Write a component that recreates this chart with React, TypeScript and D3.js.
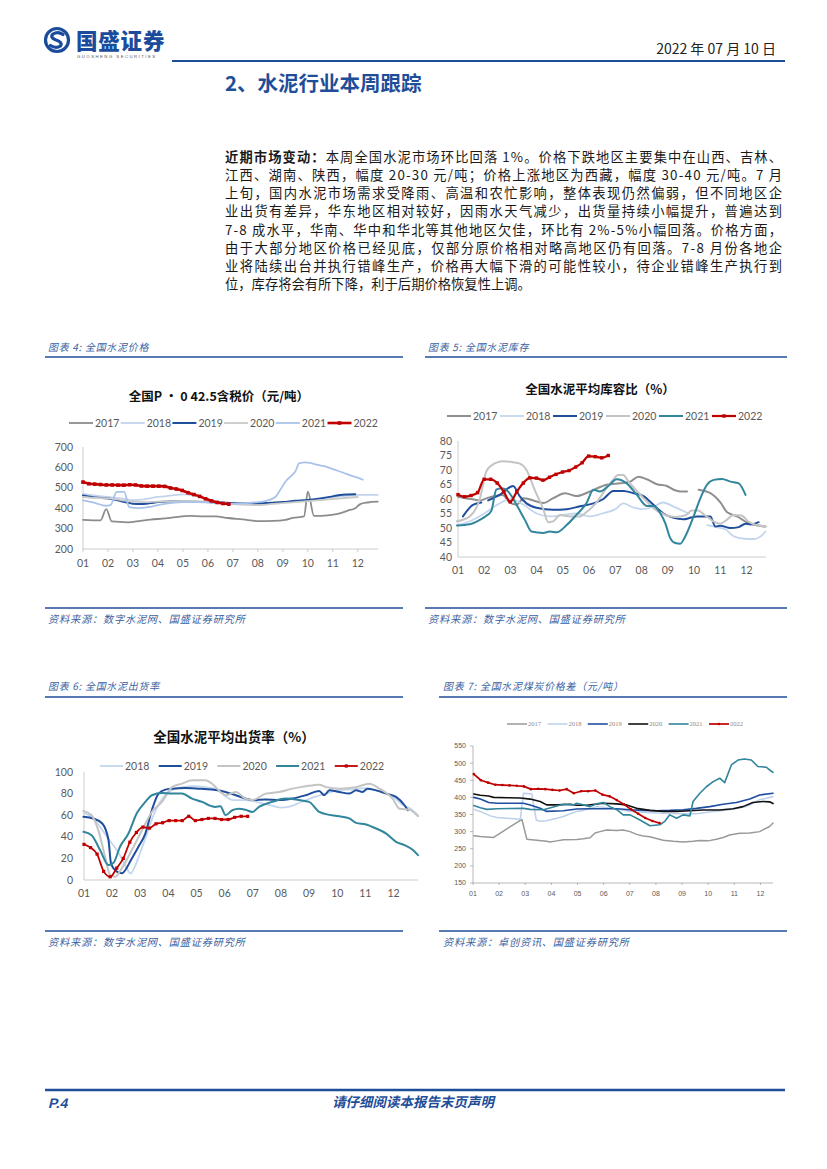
import React from 'react';
import * as d3 from 'd3';

type Pt = [number, number | null];

const MONTHS = ['01', '02', '03', '04', '05', '06', '07', '08', '09', '10', '11', '12'];
const YEARS = ['2017', '2018', '2019', '2020', '2021', '2022'];

// ---------- 图表4 全国水泥价格 ----------
const PRICE_TICKS = [200, 300, 400, 500, 600, 700];
const price2017: Pt[] = [[1, 343], [1.7, 340], [1.93, 395], [2.15, 335], [2.8, 331], [3.3, 338], [3.7, 344], [4.3, 350], [4.7, 356], [5.3, 362], [5.8, 360], [6.3, 360], [6.8, 352], [7.4, 345], [8, 337], [8.6, 338], [9.1, 343], [9.4, 352], [9.85, 360], [10.0, 481], [10.25, 362], [10.8, 365], [11.2, 372], [11.6, 388], [11.9, 400], [12.1, 420], [12.4, 428], [12.8, 432]];
const price2018: Pt[] = [[1, 470], [1.5, 462], [2, 455], [2.5, 448], [3, 440], [3.5, 445], [4, 455], [4.5, 462], [5, 468], [5.5, 460], [6, 445], [6.5, 430], [7, 420], [7.5, 418], [8, 420], [8.5, 425], [9, 430], [9.5, 435], [10, 440], [10.5, 445], [11, 455], [11.5, 460], [12, 465], [12.8, 465]];
const price2019: Pt[] = [[1, 462], [1.5, 452], [2, 448], [2.5, 435], [3, 422], [3.3, 420], [3.7, 425], [4, 430], [4.5, 433], [5, 433], [5.5, 432], [6, 430], [6.5, 428], [7, 425], [7.5, 424], [8, 423], [8.5, 427], [9, 430], [9.5, 436], [10, 440], [10.5, 448], [11, 458], [11.3, 465], [11.6, 467], [11.9, 468]];
const price2020: Pt[] = [[1, 455], [1.5, 450], [2, 448], [2.5, 440], [3, 432], [3.5, 430], [4, 432], [4.5, 432], [5, 435], [5.5, 435], [6, 430], [6.5, 425], [7, 420], [7.5, 418], [8, 415], [8.5, 420], [9, 425], [9.5, 430], [10, 435], [10.5, 440], [11, 445], [11.5, 450], [12, 455]];
const price2021: Pt[] = [[1, 438], [1.5, 425], [1.9, 412], [2.1, 415], [2.35, 480], [2.65, 480], [2.85, 405], [3.2, 400], [3.6, 405], [4, 415], [4.5, 425], [5, 430], [5.5, 430], [6, 428], [6.5, 425], [7, 422], [7.5, 425], [8, 430], [8.3, 435], [8.7, 455], [8.9, 490], [9.1, 530], [9.35, 560], [9.5, 580], [9.65, 620], [9.9, 625], [10.1, 622], [10.4, 612], [10.7, 605], [11, 592], [11.4, 575], [11.8, 557], [12.1, 545], [12.2, 540]];
const price2022: number[] = [528, 520, 518, 516, 514, 514, 513, 513, 515, 514, 509, 508, 508, 508, 507, 499, 494, 487, 476, 467, 458, 446, 436, 428, 423, 420];

// ---------- 图表5 全国水泥库存 ----------
const STOCK_TICKS = [40, 45, 50, 55, 60, 65, 70, 75, 80];
const stock2017: Pt[] = [[1, 60.8], [1.5, 60], [1.85, 59.5], [2.1, 60.3], [2.7, 61.4], [2.95, 59], [3.23, 58], [3.5, 60.3], [3.87, 59.5], [4.25, 58.6], [4.63, 60.3], [5.08, 62], [5.52, 61], [6.03, 62.6], [6.67, 64.9], [7.18, 65.4], [7.56, 66], [7.88, 67.7], [8.2, 66.8], [8.58, 65.1], [8.96, 64.5], [9.22, 63.2], [9.47, 62.6], [9.73, 62.6], [9.95, null], [10.17, 63.2], [10.62, 62], [11, 58.8], [11.26, 55.4], [11.64, 54], [12.02, 51.9], [12.72, 50.5]];
const stock2018: Pt[] = [[1, 51], [1.5, 52.5], [2, 55], [2.5, 58], [3, 60], [3.5, 58], [4, 55], [4.5, 54], [5, 54.5], [5.5, 55], [6, 54], [6.5, 55], [7, 56.5], [7.3, 58.5], [7.7, 57], [8, 56.5], [8.5, 57.5], [8.8, 58.8], [9.3, 57], [9.8, 55], [10.2, null], [10.5, 51], [10.9, 50.2], [11.2, 49.5], [11.5, 47.2], [11.9, 46.3], [12.3, 46.2], [12.55, 47.2], [12.72, 48.8]];
const stock2019: Pt[] = [[1.19, 54], [1.57, 58], [1.89, 58.8], [2.0, null], [2.15, 59.5], [2.6, 61.5], [3.1, 64.5], [3.35, 61], [3.61, 58.5], [3.99, 57], [4.63, 56.3], [5.14, 56.5], [5.65, 57.5], [6.16, 58.5], [6.54, 60], [6.92, 62.8], [7.31, 62.8], [7.69, 62], [8.07, 61], [8.45, 58], [8.83, 55], [9.22, 53.5], [9.6, 53], [9.85, 53.5], [10.1, 54], [10.62, 54], [10.81, 50.5], [11, 50.8], [11.38, 50], [11.7, 50.3], [11.96, 51.5], [12.15, 51.2], [12.46, 52]];
const stock2020: Pt[] = [[0.96, 52.3], [1.45, 54], [1.83, 60], [2.08, 69.5], [2.27, 71.5], [2.72, 73], [3.1, 72.7], [3.36, 72.2], [3.61, 70], [3.93, 63], [4.25, 56.5], [4.44, 52], [4.63, 52.3], [4.89, 54.5], [5.27, 54], [5.65, 54], [5.9, 55.5], [6.3, 59], [6.6, 63], [6.9, 66.5], [7.1, 68.3], [7.3, 68.3], [7.5, 66], [7.8, 63], [8.1, 60], [8.5, 56.5], [8.9, 54.5], [9.3, 53.8], [9.7, 54.5], [9.9, 56], [10.15, 56], [10.4, 54.5], [10.7, 52.5], [11, 51.5], [11.2, 52.5], [11.5, 54.5], [11.8, 54.3], [12.1, 52], [12.4, 51], [12.72, 50.5]];
const stock2021: Pt[] = [[0.96, 50.9], [1.45, 51.3], [1.83, 52.8], [2.08, 54.2], [2.27, 55.9], [2.46, 63.2], [2.66, 63.7], [2.91, 62.6], [3.23, 58], [3.55, 52.8], [3.8, 48.8], [4.25, 48.3], [4.5, 48.8], [4.76, 48.5], [5.14, 51], [5.52, 54.6], [5.9, 58.6], [6.16, 63.2], [6.41, 62.6], [6.73, 64.5], [7.05, 66.8], [7.43, 65.4], [7.82, 61.4], [8.2, 57.6], [8.45, 57.6], [8.71, 55.1], [8.9, 51.7], [9.09, 46.5], [9.28, 44.8], [9.47, 44.6], [9.66, 47.1], [9.98, 54], [10.24, 60.3], [10.49, 64.9], [10.75, 66.6], [11.06, 66.9], [11.38, 66], [11.7, 65.4], [11.96, 61.4]];
const stock2022: number[] = [61.5, 60.8, 61.2, 62.2, 66.8, 66.8, 65.5, 62.5, 59.0, 62.5, 65.5, 67.3, 67.2, 66.5, 67.5, 68.5, 69.3, 69.8, 71.0, 72.5, 74.8, 74.6, 74.2, 75.0];

// ---------- 图表6 全国水泥出货率 ----------
const SHIP_TICKS = [0, 20, 40, 60, 80, 100];
const SHIP_YEARS = ['2018', '2019', '2020', '2021', '2022'];
const ship2018: Pt[] = [[1, 62], [1.3, 58], [1.6, 48], [1.9, 37], [2.1, 30], [2.3, 22], [2.5, 12], [2.65, 6], [2.8, 12], [2.95, 22], [3.2, 40], [3.5, 62], [3.8, 76], [4.1, 83], [4.5, 86], [4.9, 87], [5.3, 86], [5.7, 84], [6.0, 78], [6.3, 74], [6.7, 74], [7, 73], [7.5, 70], [8, 67], [8.3, 68], [8.7, 72], [9.2, 77], [9.6, 80], [10, 83], [10.5, 84], [11, 85], [11.5, 82], [12, 77], [12.3, 70], [12.6, 66], [12.87, 60]];
const ship2019: Pt[] = [[0.98, 58.5], [1.33, 57], [1.65, 52.3], [1.87, 37], [1.96, 15.4], [2.17, 7.7], [2.34, 6.2], [2.7, 20], [2.94, 31], [3.18, 43], [3.41, 64.6], [3.65, 80], [3.89, 83.7], [4.13, 84.6], [4.6, 85.2], [5.08, 84.6], [5.55, 83.7], [6.03, 81.5], [6.39, 78.5], [6.74, 75.4], [6.98, 74], [7.46, 74.5], [7.93, 74], [8.41, 75.4], [8.88, 78.5], [9.36, 82.5], [9.54, 78.5], [9.72, 83], [10.07, 81.5], [10.43, 80], [10.67, 83], [10.9, 81.5], [11.08, 84.6], [11.38, 83], [11.74, 80], [12.09, 77], [12.39, 69.2], [12.51, 64.6]];
const ship2020: Pt[] = [[0.98, 64], [1.27, 60], [1.51, 46], [1.75, 21.5], [1.93, 4.6], [2.11, 3], [2.34, 10.8], [2.7, 27.7], [3.06, 46], [3.41, 63], [3.77, 72.3], [4.13, 86], [4.48, 89.2], [4.84, 92.3], [5.32, 92.3], [5.55, 89.2], [5.85, 81.5], [6.03, 78.5], [6.39, 81.5], [6.74, 75.4], [6.98, 74], [7.46, 80], [7.93, 81.5], [8.41, 84.6], [8.88, 86.8], [9.36, 88.3], [9.6, 86], [10.07, 84.6], [10.67, 86], [11.14, 89.2], [11.5, 84.6], [11.97, 75.4], [12.21, 66], [12.57, 65], [12.87, 59]];
const ship2021: Pt[] = [[0.98, 44.6], [1.27, 41.5], [1.57, 27.7], [1.87, 13.8], [2.05, 16], [2.28, 30.8], [2.58, 43], [2.88, 62], [3.18, 72.3], [3.41, 78.5], [3.77, 80.6], [4.13, 80], [4.48, 80], [4.84, 75.4], [5.2, 72.3], [5.44, 69.2], [5.67, 67.7], [5.85, 68.3], [6.03, 60], [6.27, 64.6], [6.51, 66], [6.74, 65], [6.98, 63], [7.22, 67.7], [7.69, 72.3], [8.17, 75.4], [8.65, 74], [9.0, 72.3], [9.36, 63], [9.6, 61], [10.07, 59.1], [10.43, 57], [10.67, 52.9], [11.02, 51.4], [11.38, 47.7], [11.74, 43], [12.09, 35.4], [12.39, 32.3], [12.69, 27.7], [12.87, 23]];
const ship2022: number[] = [33, 30, 24, 8, 3, 11, 20, 35, 44, 49, 48, 52, 53, 55, 55, 55, 59, 55, 56, 57, 57, 56, 56, 58, 59, 59];

// ---------- 图表7 全国水泥煤炭价格差 ----------
const SPREAD_TICKS = [150, 200, 250, 300, 350, 400, 450, 500, 550];
const spread2017: Pt[] = [[1.03, 288], [1.28, 286], [1.79, 283], [2.87, 336], [3.06, 278], [3.44, 275], [3.82, 272], [3.95, 270], [4.21, 273], [4.46, 276], [4.97, 277], [5.22, 279], [5.48, 282], [5.67, 296], [5.86, 300], [6.11, 305], [6.5, 303], [6.75, 305], [7.01, 300], [7.26, 292], [7.51, 287], [7.77, 285], [8.02, 280], [8.28, 275], [8.66, 272], [9.04, 270], [9.42, 272], [9.68, 274], [10.0, 273], [10.31, 278], [10.57, 283], [10.82, 290], [11.2, 295], [11.59, 296], [11.97, 300], [12.09, 305], [12.35, 315], [12.48, 325]];
const spread2018: Pt[] = [[1.03, 365], [1.28, 359], [1.66, 346], [1.92, 341], [2.3, 339], [2.81, 336], [2.93, 412], [3.25, 410], [3.42, 334], [3.57, 330], [3.82, 332], [4.21, 339], [4.46, 344], [4.72, 352], [4.97, 359], [5.22, 362], [5.73, 373], [6.37, 368], [7.01, 359], [7.64, 356], [8.28, 354], [8.91, 352], [9.55, 352], [10.19, 359], [10.82, 364], [11.46, 373], [11.97, 393], [12.48, 402]];
const spread2019: Pt[] = [[1.03, 400], [1.28, 395], [1.6, 385], [1.92, 383], [2.93, 383], [3.19, 378], [3.57, 368], [3.82, 359], [4.46, 361], [4.97, 366], [5.48, 367], [6.5, 367], [7.01, 364], [7.51, 362], [8.02, 361], [8.53, 362], [9.04, 364], [9.55, 368], [10.06, 373], [10.57, 380], [11.08, 385], [11.59, 395], [11.97, 407], [12.48, 412]];
const spread2020: Pt[] = [[1.03, 410], [1.28, 406], [1.6, 404], [1.79, 400], [2.3, 399], [2.81, 398], [3.19, 395], [3.57, 388], [3.82, 378], [4.21, 378], [4.72, 380], [4.97, 377], [5.35, 377], [5.99, 383], [6.5, 381], [6.88, 378], [7.26, 368], [7.77, 362], [8.28, 359], [8.79, 359], [9.3, 361], [9.8, 363], [10.44, 363], [10.95, 367], [11.33, 373], [11.71, 385], [12.09, 388], [12.35, 387], [12.48, 382]];
const spread2021: Pt[] = [[1.03, 376], [1.28, 370], [1.53, 365], [1.92, 367], [2.93, 368], [3.19, 365], [3.7, 364], [4.21, 375], [4.46, 380], [4.84, 378], [4.97, 383], [5.48, 373], [5.73, 381], [5.99, 385], [6.24, 373], [6.5, 364], [6.75, 349], [7.01, 349], [7.39, 334], [7.77, 317], [8.15, 320], [8.34, 330], [8.53, 349], [8.79, 339], [9.04, 349], [9.3, 346], [9.42, 388], [9.68, 412], [9.93, 431], [10.19, 446], [10.44, 456], [10.63, 443], [10.89, 495], [11.14, 509], [11.39, 512], [11.65, 509], [11.9, 490], [12.22, 488], [12.35, 480], [12.48, 473]];
const spread2022: number[] = [468, 450, 443, 437, 436, 435, 434, 432, 424, 425, 424, 422, 420, 424, 412, 418, 418, 420, 408, 403, 392, 380, 365, 352, 340, 331, 325];

// ---------- 正文 ----------
const PARA_LINES = [
  '本周全国水泥市场环比回落 1%。价格下跌地区主要集中在山西、吉林、',
  '江西、湖南、陕西，幅度 20-30 元/吨；价格上涨地区为西藏，幅度 30-40 元/吨。7 月',
  '上旬，国内水泥市场需求受降雨、高温和农忙影响，整体表现仍然偏弱，但不同地区企',
  '业出货有差异，华东地区相对较好，因雨水天气减少，出货量持续小幅提升，普遍达到',
  '7-8 成水平，华南、华中和华北等其他地区欠佳，环比有 2%-5%小幅回落。价格方面，',
  '由于大部分地区价格已经见底，仅部分原价格相对略高地区仍有回落。7-8 月份各地企',
  '业将陆续出台并执行错峰生产，价格再大幅下滑的可能性较小，待企业错峰生产执行到',
  '位，库存将会有所下降，利于后期价格恢复性上调。',
];

const CJK = '"Noto Sans CJK SC", "Noto Sans", sans-serif';
const NUM = 'Lato, "Liberation Sans", sans-serif';
const BLUE = '#1f4e99';
const CAP = '#3b5f9f';

const weekly = (vals: number[], start: number, step: number): Pt[] => vals.map((v, i) => [start + i * step, v]);

interface SeriesDef {
  name: string;
  data: Pt[];
  color: string;
  width: number;
  marker?: 'square' | 'circle';
  msize?: number;
}

interface ChartProps {
  left: number; right: number; top: number; bottom: number;
  xMax: number; yTicks: number[];
  series: SeriesDef[];
  curve?: d3.CurveFactory;
  labelSize: number; labelFont: string; labelColor: string;
  yLabelGap: number; xLabelDy: number; axisColor: string;
  xTickLen: number; yTickLen: number;
}

function LineChart(p: ChartProps) {
  const x = d3.scaleLinear().domain([1, p.xMax]).range([p.left, p.right]);
  const y = d3.scaleLinear().domain([p.yTicks[0], p.yTicks[p.yTicks.length - 1]]).range([p.bottom, p.top]);
  const line = d3.line<Pt>()
    .defined(d => d[1] !== null)
    .x(d => x(d[0]))
    .y(d => y(d[1] as number))
    .curve(p.curve ?? d3.curveMonotoneX);
  return (
    <g>
      <line x1={x(1)} x2={x(1)} y1={y.range()[1]} y2={y.range()[0]} stroke={p.axisColor} strokeWidth={0.8} />
      <line x1={x(1)} x2={p.right} y1={p.bottom} y2={p.bottom} stroke={p.axisColor} strokeWidth={0.8} />
      {p.yTicks.map(t => (
        <g key={'y' + t}>
          {p.yTickLen > 0 && <line x1={x(1) - p.yTickLen} x2={x(1)} y1={y(t)} y2={y(t)} stroke={p.axisColor} strokeWidth={0.8} />}
          <text x={x(1) - p.yLabelGap} y={y(t)} dy="0.35em" textAnchor="end" fontFamily={p.labelFont} fontSize={p.labelSize} fill={p.labelColor}>{t}</text>
        </g>
      ))}
      {MONTHS.map((m, i) => (
        <g key={'x' + m}>
          {p.xTickLen > 0 && <line x1={x(i + 1)} x2={x(i + 1)} y1={p.bottom} y2={p.bottom + p.xTickLen} stroke={p.axisColor} strokeWidth={0.8} />}
          <text x={x(i + 1)} y={p.bottom + p.xLabelDy} textAnchor="middle" fontFamily={p.labelFont} fontSize={p.labelSize} fill={p.labelColor}>{m}</text>
        </g>
      ))}
      {p.series.map(s => (
        <g key={s.name}>
          <path d={line(s.data) || ''} fill="none" stroke={s.color} strokeWidth={s.width} strokeLinejoin="round" strokeLinecap="round" />
          {s.marker === 'square' && s.data.filter(d => d[1] !== null).map((d, i) => (
            <rect key={i} x={x(d[0]) - (s.msize ?? 3) / 2} y={y(d[1] as number) - (s.msize ?? 3) / 2} width={s.msize ?? 3} height={s.msize ?? 3} fill={s.color} />
          ))}
          {s.marker === 'circle' && s.data.filter(d => d[1] !== null).map((d, i) => (
            <circle key={i} cx={x(d[0])} cy={y(d[1] as number)} r={(s.msize ?? 2) / 2} fill={s.color} />
          ))}
        </g>
      ))}
    </g>
  );
}

interface LegendProps {
  items: SeriesDef[]; x0: number; step: number; y: number; lineLen: number; textDx: number;
  fontSize: number; font: string; color: string;
}

function Legend(p: LegendProps) {
  return (
    <g>
      {p.items.map((s, i) => {
        const lx = p.x0 + i * p.step;
        const ms = s.msize ?? 3;
        return (
          <g key={s.name}>
            <line x1={lx} x2={lx + p.lineLen} y1={p.y} y2={p.y} stroke={s.color} strokeWidth={s.width} />
            {s.marker === 'square' && <rect x={lx + p.lineLen / 2 - ms / 2} y={p.y - ms / 2} width={ms} height={ms} fill={s.color} />}
            {s.marker === 'circle' && <circle cx={lx + p.lineLen / 2} cy={p.y} r={ms / 2} fill={s.color} />}
            <text x={lx + p.textDx} y={p.y} dy="0.35em" fontFamily={p.font} fontSize={p.fontSize} fill={p.color}>{s.name}</text>
          </g>
        );
      })}
    </g>
  );
}

function Oblique({ x, y, children, size, color, weight, anchor, spacing, family }: {
  x: number; y: number; children: React.ReactNode; size: number; color: string; weight?: number; anchor?: string; spacing?: number; family?: string;
}) {
  return (
    <g transform={`translate(${x},${y}) skewX(-13)`}>
      <text x={0} y={0} fontFamily={family ?? CJK} fontSize={size} fill={color} fontWeight={weight ?? 400}
        textAnchor={anchor ?? 'start'} letterSpacing={spacing ?? 0}>{children}</text>
    </g>
  );
}

function Caption({ x, y, lineX1, lineX2, lineY, text }: { x: number; y: number; lineX1: number; lineX2: number; lineY: number; text: string }) {
  return (
    <g>
      <Oblique x={x} y={y} size={10} color={CAP} spacing={0.7}>{text}</Oblique>
      <line x1={lineX1} x2={lineX2} y1={lineY} y2={lineY} stroke={BLUE} strokeWidth={1.6} />
    </g>
  );
}

function Source({ x, y, lineX1, lineX2, lineY, text }: { x: number; y: number; lineX1: number; lineX2: number; lineY: number; text: string }) {
  return (
    <g>
      <line x1={lineX1} x2={lineX2} y1={lineY} y2={lineY} stroke={BLUE} strokeWidth={1.6} />
      <Oblique x={x} y={y} size={10.3} color={CAP} spacing={0.7}>{text}</Oblique>
    </g>
  );
}

export default function App() {
  const c4: SeriesDef[] = [
    { name: YEARS[0], data: price2017, color: '#8c8c8c', width: 1.8 },
    { name: YEARS[1], data: price2018, color: '#c3d4ec', width: 1.8 },
    { name: YEARS[2], data: price2019, color: '#1f4e9c', width: 2 },
    { name: YEARS[3], data: price2020, color: '#cacaca', width: 1.8 },
    { name: YEARS[4], data: price2021, color: '#a9c3e8', width: 1.8 },
    { name: YEARS[5], data: weekly(price2022, 1, 0.2336), color: '#c00000', width: 2.6, marker: 'square', msize: 3.6 },
  ];
  const c5: SeriesDef[] = [
    { name: YEARS[0], data: stock2017, color: '#8f8f8f', width: 2 },
    { name: YEARS[1], data: stock2018, color: '#c3d6ee', width: 1.8 },
    { name: YEARS[2], data: stock2019, color: '#1f4e9c', width: 2 },
    { name: YEARS[3], data: stock2020, color: '#c4c4c4', width: 2 },
    { name: YEARS[4], data: stock2021, color: '#31859c', width: 2 },
    { name: YEARS[5], data: weekly(stock2022, 1, 0.249), color: '#c00000', width: 2.2, marker: 'square', msize: 3.4 },
  ];
  const c6: SeriesDef[] = [
    { name: SHIP_YEARS[0], data: ship2018, color: '#c3d6ee', width: 1.8 },
    { name: SHIP_YEARS[1], data: ship2019, color: '#1f4e9c', width: 2 },
    { name: SHIP_YEARS[2], data: ship2020, color: '#c4c4c4', width: 2 },
    { name: SHIP_YEARS[3], data: ship2021, color: '#31859c', width: 2 },
    { name: SHIP_YEARS[4], data: weekly(ship2022, 1, 0.2327), color: '#c00000', width: 1.8, marker: 'square', msize: 3.2 },
  ];
  const c7: SeriesDef[] = [
    { name: YEARS[0], data: spread2017, color: '#999999', width: 1.5 },
    { name: YEARS[1], data: spread2018, color: '#bcd0ea', width: 1.5 },
    { name: YEARS[2], data: spread2019, color: '#1f4ea0', width: 1.6 },
    { name: YEARS[3], data: spread2020, color: '#111111', width: 1.6 },
    { name: YEARS[4], data: spread2021, color: '#31859c', width: 1.6 },
    { name: YEARS[5], data: weekly(spread2022, 1.03, 0.2735), color: '#c00000', width: 1.7, marker: 'circle', msize: 2.6 },
  ];

  return (
    <svg width={827} height={1169} viewBox="0 0 827 1169" style={{ position: 'absolute', left: 0, top: 0, background: '#fff' }}>
      <rect x={0} y={0} width={827} height={1169} fill="#fff" />
      {/* Header */}
      <g>
        <circle cx={57} cy={40} r={11.5} fill="none" stroke="#1b4c9b" strokeWidth={3.2} />
        <path d="M63 34.5 Q58 31 53 34 Q49.5 37.5 56 40 Q63 42.5 60.5 46 Q56 49 50.5 45.5" fill="none" stroke="#1b4c9b" strokeWidth={3.2} strokeLinecap="round" />
        <text x={76} y={48.5} fontFamily={CJK} fontWeight={900} fontSize={21.5} fill="#1b4c9b" letterSpacing={0.8}>国盛证券</text>
        <text x={77} y={57.5} fontFamily="Liberation Sans, sans-serif" fontSize={4.3} fill="#555" letterSpacing={1.45}>GUOSHENG SECURITIES</text>
        <text x={776} y={54} textAnchor="end" fontFamily={CJK} fontSize={14} fill="#222">2022 年 07 月 10 日</text>
        <line x1={172} x2={785} y1={61} y2={61} stroke={BLUE} strokeWidth={2} />
      </g>
      <text x={225} y={91} fontFamily={CJK} fontWeight={700} fontSize={20.5} fill="#1f4e99">2、水泥行业本周跟踪</text>

      {/* Paragraph */}
      {PARA_LINES.map((l, i) => {
        const yy = 162 + i * 18.15;
        const full = i < PARA_LINES.length - 1;
        return (
          <text key={i} x={225} y={yy} fontFamily={CJK} fontSize={13.3} fill="#1a1a1a"
            {...(full ? { textLength: 557, lengthAdjust: 'spacing' } : {})}>
            {i === 0 && <tspan fontWeight={700}>近期市场变动：</tspan>}
            <tspan>{l}</tspan>
          </text>
        );
      })}

      {/* Chart 4 */}
      <Caption x={48} y={351} lineX1={45} lineX2={403} lineY={357} text="图表 4:  全国水泥价格" />
      <text x={219} y={401} textAnchor="middle" fontFamily={CJK} fontWeight={700} fontSize={12.5} fill="#111">全国P · 0 42.5含税价（元/吨）</text>
      <Legend items={c4} x0={69} step={51.7} y={423} lineLen={24} textDx={26} fontSize={10.5} font={NUM} color="#595959" />
      <LineChart left={83} right={378} top={447} bottom={549} xMax={12.81} yTicks={PRICE_TICKS} series={c4}
        labelSize={10.5} labelFont={NUM} labelColor="#595959" yLabelGap={10} xLabelDy={18} axisColor="#bfbfbf" xTickLen={3} yTickLen={0} />
      <Source x={48} y={623} lineX1={45} lineX2={403} lineY={608} text="资料来源：数字水泥网、国盛证券研究所" />

      {/* Chart 5 */}
      <Caption x={428} y={351} lineX1={425} lineX2={787} lineY={357} text="图表 5:  全国水泥库存" />
      <text x={600} y={394} textAnchor="middle" fontFamily={CJK} fontWeight={700} fontSize={12.5} fill="#111">全国水泥平均库容比（%）</text>
      <Legend items={c5} x0={447} step={53} y={416} lineLen={24} textDx={26} fontSize={10.5} font={NUM} color="#595959" />
      <LineChart left={458} right={766} top={441} bottom={557} xMax={12.74} yTicks={STOCK_TICKS} series={c5}
        labelSize={10.5} labelFont={NUM} labelColor="#595959" yLabelGap={6} xLabelDy={17} axisColor="#bfbfbf" xTickLen={0} yTickLen={0} />
      <Source x={428} y={623} lineX1={425} lineX2={787} lineY={608} text="资料来源：数字水泥网、国盛证券研究所" />

      {/* Chart 6 */}
      <Caption x={48} y={690} lineX1={45} lineX2={403} lineY={697} text="图表 6:  全国水泥出货率" />
      <text x={234} y={742} textAnchor="middle" fontFamily={CJK} fontWeight={700} fontSize={13.5} fill="#111">全国水泥平均出货率（%）</text>
      <Legend items={c6} x0={100} step={58.7} y={766} lineLen={23} textDx={25} fontSize={10.5} font={NUM} color="#595959" />
      <LineChart left={84} right={418} top={772} bottom={880} xMax={12.87} yTicks={SHIP_TICKS} series={c6}
        labelSize={10.5} labelFont={NUM} labelColor="#595959" yLabelGap={11} xLabelDy={17} axisColor="#bfbfbf" xTickLen={0} yTickLen={0} />
      <Source x={48} y={946} lineX1={45} lineX2={403} lineY={931} text="资料来源：数字水泥网、国盛证券研究所" />

      {/* Chart 7 */}
      <Caption x={443} y={690} lineX1={439} lineX2={787} lineY={697} text="图表 7:  全国水泥煤炭价格差（元/吨）" />
      <Legend items={c7} x0={507} step={40.4} y={724} lineLen={20} textDx={21} fontSize={6.5} font="Liberation Serif, serif" color="#8a8a8a" />
      <LineChart left={473} right={773} top={746} bottom={883} xMax={12.48} yTicks={SPREAD_TICKS} series={c7} curve={d3.curveLinear}
        labelSize={7} labelFont="Liberation Sans, sans-serif" labelColor="#595959" yLabelGap={7} xLabelDy={13} axisColor="#a6a6a6" xTickLen={2} yTickLen={3} />
      <Source x={443} y={946} lineX1={439} lineX2={787} lineY={931} text="资料来源：卓创资讯、国盛证券研究所" />

      {/* Footer */}
      <line x1={45} x2={785} y1={1090} y2={1090} stroke={BLUE} strokeWidth={2.6} />
      <Oblique x={48} y={1108} size={14} color="#1f4e99" weight={700} family="Liberation Sans, sans-serif">P.4</Oblique>
      <Oblique x={413} y={1107} size={13.5} color="#1f4e99" weight={700} anchor="middle">请仔细阅读本报告末页声明</Oblique>
    </svg>
  );
}
